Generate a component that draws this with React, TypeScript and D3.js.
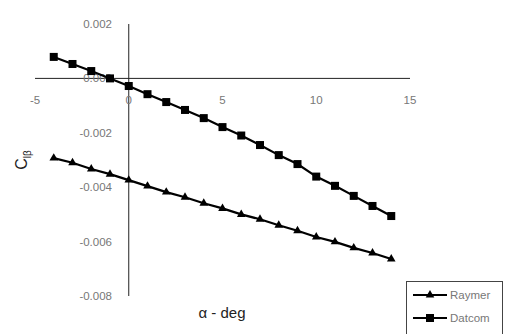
import React from "react";
import * as d3 from "d3";

const alpha = [-4, -3, -2, -1, 0, 1, 2, 3, 4, 5, 6, 7, 8, 9, 10, 11, 12, 13, 14];
const datcom = [0.00079, 0.00053, 0.00027, 0.0, -0.00028, -0.00058, -0.00087, -0.00116, -0.00146, -0.00179, -0.0021, -0.00245, -0.00282, -0.00315, -0.00361, -0.00395, -0.00432, -0.00469, -0.00506];
const raymer = [-0.00293, -0.0031, -0.00333, -0.00352, -0.00374, -0.00396, -0.00418, -0.00437, -0.00459, -0.00478, -0.005, -0.00518, -0.0054, -0.0056, -0.00583, -0.00601, -0.00623, -0.00642, -0.00664];
const xTicks = [-5, 0, 5, 10, 15];
const yTicks = [0.002, 0, -0.002, -0.004, -0.006, -0.008];
const yTickLabels = ["0.002", "0.000", "-0.002", "-0.004", "-0.006", "-0.008"];
const seriesNames = ["Raymer", "Datcom"];

export default function App() {
  const W = 519, H = 334;
  const x = d3.scaleLinear().domain([-5, 15]).range([35, 410]);
  const y = d3.scaleLinear().domain([-0.008, 0.002]).range([296, 24]);
  const line = d3.line<number>().x((_, i) => x(alpha[i])).y((d) => y(d));
  const tri = d3.symbol().type(d3.symbolTriangle).size(32)();
  const font = "Arial, 'Liberation Sans', sans-serif";
  const gray = "#777";
  return (
    <svg width={W} height={H} style={{ position: "absolute", left: 0, top: 0, background: "#fff" }}>
      <rect width={W} height={H} fill="#fff" />
      {/* axes */}
      <line x1={x(-5)} x2={x(15)} y1={y(0)} y2={y(0)} stroke="#222" strokeWidth={1} />
      <line x1={x(0)} x2={x(0)} y1={y(0.002)} y2={y(-0.008)} stroke="#222" strokeWidth={1} />
      {yTicks.map((t, i) => (
        <text key={"y" + i} x={112} y={y(t)} dy="0.35em" textAnchor="end" fontFamily={font} fontSize={11.5} fill={gray}>
          {yTickLabels[i]}
        </text>
      ))}
      {xTicks.map((t) => (
        <text key={"x" + t} x={x(t)} y={100} dy="0.35em" textAnchor="middle" fontFamily={font} fontSize={11.5} fill={gray}>
          {t}
        </text>
      ))}
      {/* series */}
      <path d={line(datcom) || ""} fill="none" stroke="#000" strokeWidth={2.2} />
      <path d={line(raymer) || ""} fill="none" stroke="#000" strokeWidth={2.2} />
      {datcom.map((v, i) => (
        <rect key={"d" + i} x={x(alpha[i]) - 4} y={y(v) - 4} width={8} height={8} fill="#000" />
      ))}
      {raymer.map((v, i) => (
        <path key={"r" + i} d={tri || ""} transform={`translate(${x(alpha[i])},${y(v)})`} fill="#000" />
      ))}
      {/* axis titles */}
      <text x={222} y={318} textAnchor="middle" fontFamily={font} fontSize={15} fill="#222">α - deg</text>
      <text transform="translate(27,160) rotate(-90)" textAnchor="middle" fontFamily={font} fontSize={16} fill="#222">
        C<tspan fontSize={10} dy={4}>lβ</tspan>
      </text>
      {/* legend */}
      <rect x={406.5} y={281.5} width={96} height={60} fill="#fff" stroke="#444" strokeWidth={1} />
      <line x1={413} x2={447} y1={295} y2={295} stroke="#000" strokeWidth={2} />
      <path d={tri || ""} transform="translate(430,295)" fill="#000" />
      <text x={450} y={295} dy="0.35em" fontFamily={font} fontSize={11.5} fill={gray}>{seriesNames[0]}</text>
      <line x1={413} x2={447} y1={318} y2={318} stroke="#000" strokeWidth={2} />
      <rect x={426} y={314} width={8} height={8} fill="#000" />
      <text x={450} y={318} dy="0.35em" fontFamily={font} fontSize={11.5} fill={gray}>{seriesNames[1]}</text>
    </svg>
  );
}
